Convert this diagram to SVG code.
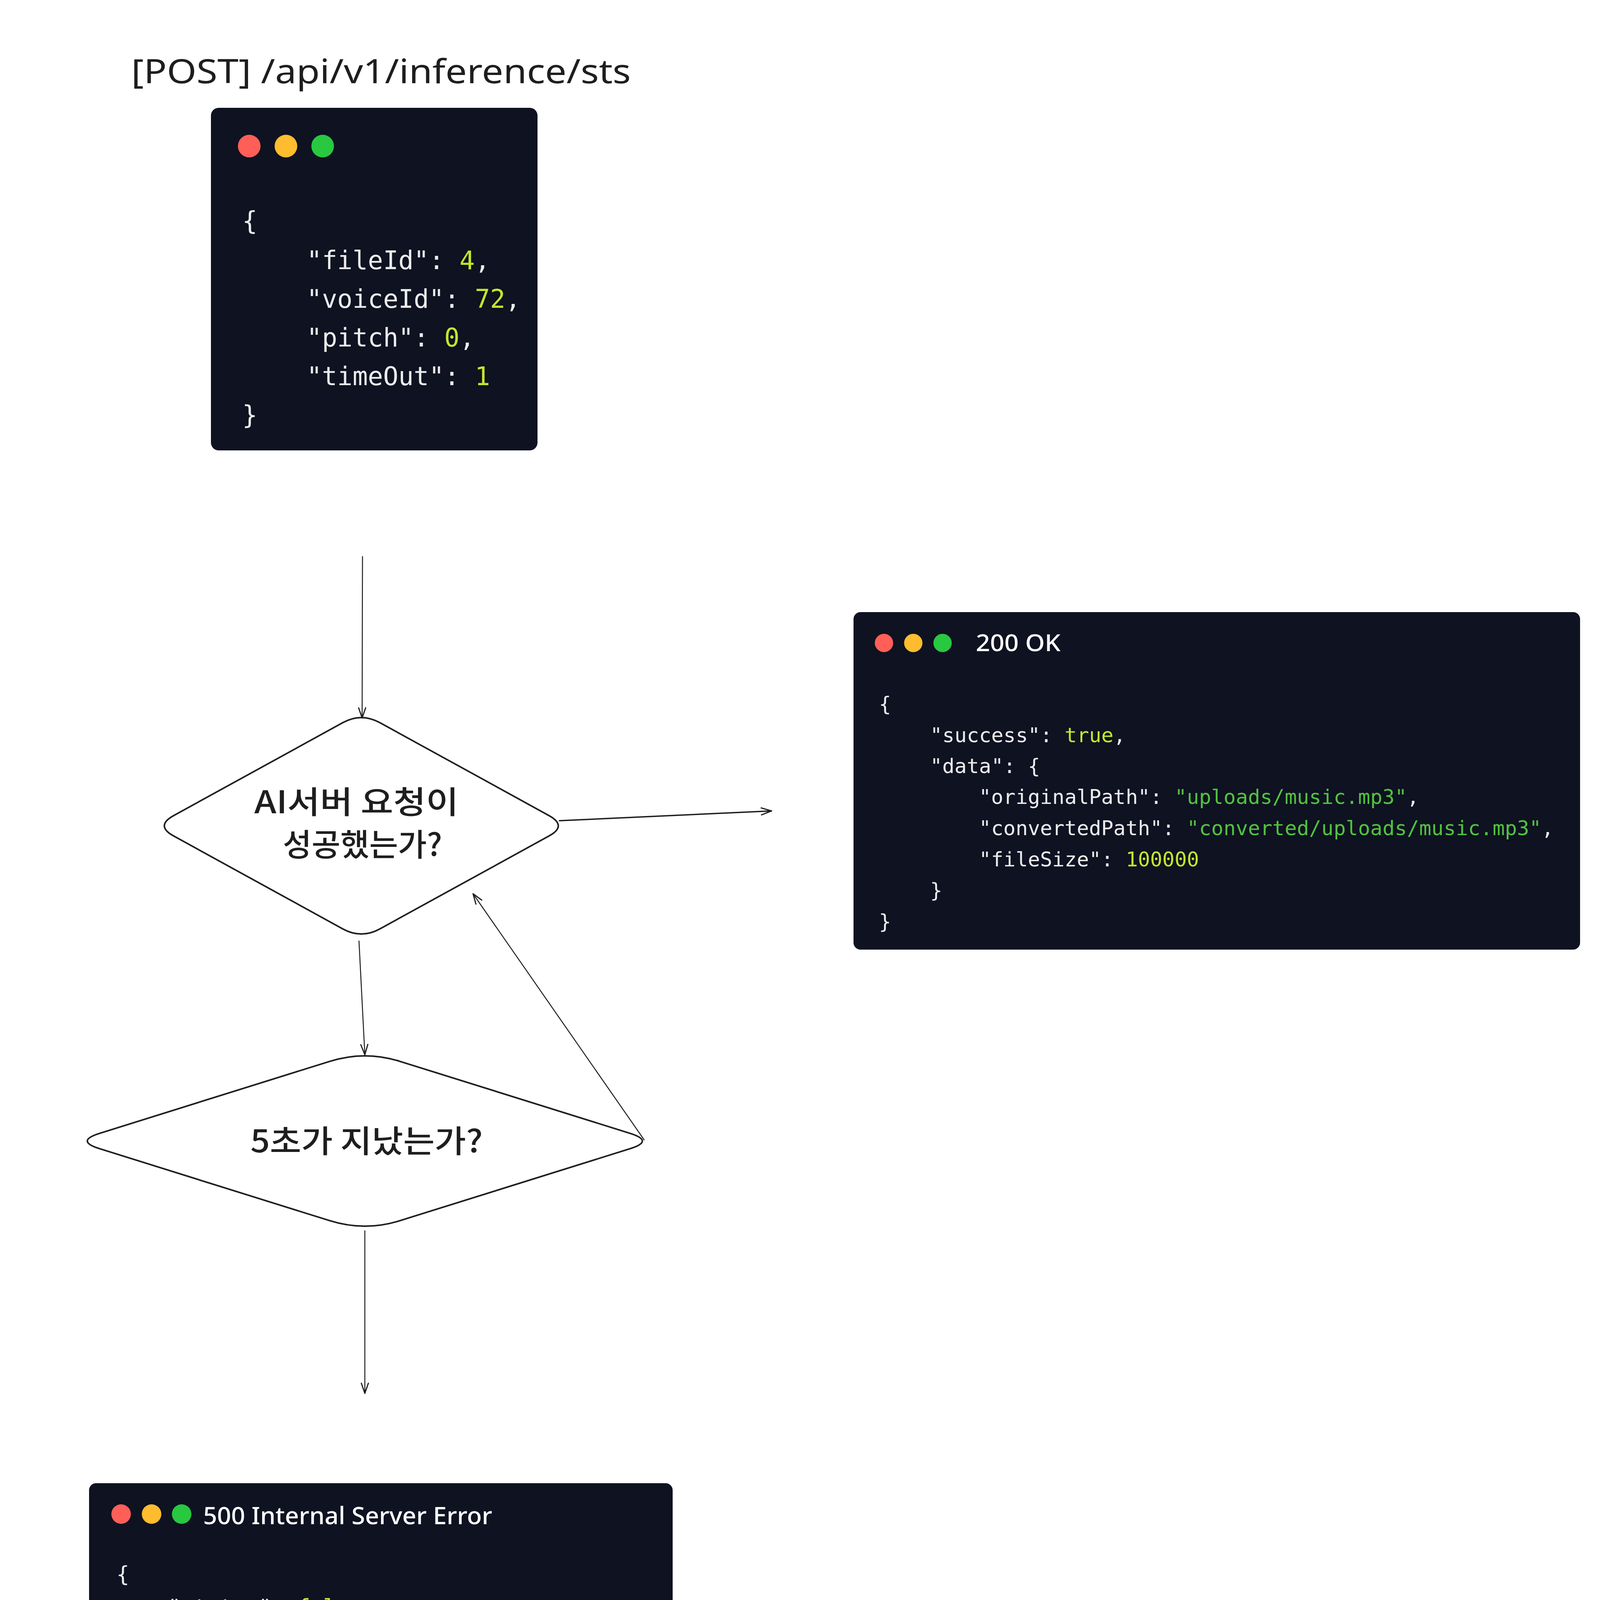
<svg xmlns="http://www.w3.org/2000/svg" width="4259" height="6463" viewBox="0 0 4259 6463">
<defs>
<style>
.bg{fill:#ffffff}
.card{fill:#0e1221}
.r{fill:#ff5f57}.y{fill:#febc2e}.g{fill:#28c840}
.code{font-family:"DejaVu Sans Mono","Liberation Mono",monospace;fill:#ececec}
.n{fill:#c5e52c}
.s{fill:#52c23f}
.hand{font-family:"Noto Sans","Liberation Sans",sans-serif}
.ttl{font-family:"Noto Sans","Liberation Sans",sans-serif;fill:#ffffff;font-weight:500}
.kr{font-family:"Noto Sans CJK KR","Noto Sans",sans-serif;fill:#1e1e1e;font-weight:500;text-anchor:start}
.dia{fill:#ffffff;stroke:#1e1e1e;stroke-width:4;stroke-linejoin:round}
.edge{fill:none;stroke:#1e1e1e;stroke-linecap:round}
</style>
<marker id="ah" markerUnits="userSpaceOnUse" markerWidth="60" markerHeight="40" viewBox="-40 -20 60 40" refX="0" refY="0" orient="auto">
<path d="M-26,-9 L0,0 L-26,9" fill="none" stroke="#1e1e1e" stroke-width="3" stroke-linecap="round" stroke-linejoin="round"/>
</marker>
</defs>
<rect class="bg" x="0" y="0" width="4259" height="6463"/>

<g id="title">
<text class="hand" x="336" y="213" font-size="86" fill="#1e1e1e" textLength="1279" lengthAdjust="spacingAndGlyphs">[POST] /api/v1/inference/sts</text>
</g>

<g id="request-card">
<rect class="card" x="540" y="276" width="836" height="877" rx="20"/>
<circle class="r" cx="638" cy="374" r="29"/>
<circle class="y" cx="732" cy="374" r="29"/>
<circle class="g" cx="826" cy="374" r="29"/>
<g class="code" font-size="65">
<text x="620" y="588">{</text>
<text x="785" y="689">"fileId": <tspan class="n">4</tspan>,</text>
<text x="785" y="788">"voiceId": <tspan class="n">72</tspan>,</text>
<text x="785" y="887">"pitch": <tspan class="n">0</tspan>,</text>
<text x="785" y="986">"timeOut": <tspan class="n">1</tspan></text>
<text x="620" y="1085">}</text>
</g>
</g>

<g id="decision-ai">
<path class="dia" d="M 972.5 1850.1 L 1405.5 2087.9 Q 1453 2114 1405.5 2140.1 L 972.5 2377.9 Q 925 2404 877.5 2377.9 L 444.5 2140.1 Q 397 2114 444.5 2087.9 L 877.5 1850.1 Q 925 1824 972.5 1850.1 Z"/>
<text class="kr" x="651" y="2082" font-size="80" textLength="523" lengthAdjust="spacingAndGlyphs">AI서버 요청이</text>
<text class="kr" x="724" y="2191" font-size="80" textLength="408" lengthAdjust="spacingAndGlyphs">성공했는가?</text>
</g>

<g id="decision-timeout">
<path class="dia" d="M 1023 2716.8 L 1612.9 2901.3 Q 1676 2921 1612.9 2940.7 L 1023 3125.2 Q 934 3153 845 3125.2 L 255.1 2940.7 Q 192 2921 255.1 2901.3 L 845 2716.8 Q 934 2689 1023 2716.8 Z"/>
<text class="kr" x="641" y="2950" font-size="80" textLength="595" lengthAdjust="spacingAndGlyphs">5초가 지났는가?</text>
</g>

<g id="success-card">
<rect class="card" x="2185" y="1567" width="1860" height="864" rx="18"/>
<circle class="r" cx="2263" cy="1646" r="23.5"/>
<circle class="y" cx="2338" cy="1646" r="23.5"/>
<circle class="g" cx="2413" cy="1646" r="23.5"/>
<text class="ttl" x="2498" y="1667" font-size="60" textLength="217" lengthAdjust="spacingAndGlyphs">200 OK</text>
<g class="code" font-size="52">
<text x="2250" y="1820">{</text>
<text x="2381" y="1900">"success": <tspan class="n">true</tspan>,</text>
<text x="2381" y="1979">"data": {</text>
<text x="2506" y="2058">"originalPath": <tspan class="s">"uploads/music.mp3"</tspan>,</text>
<text x="2506" y="2138">"convertedPath": <tspan class="s">"converted/uploads/music.mp3"</tspan>,</text>
<text x="2506" y="2218">"fileSize": <tspan class="n">100000</tspan></text>
<text x="2381" y="2297">}</text>
<text x="2250" y="2377">}</text>
</g>
</g>

<g id="error-card">
<rect class="card" x="228" y="3797" width="1494" height="805" rx="18"/>
<circle class="r" cx="310" cy="3876" r="25"/>
<circle class="y" cx="388" cy="3876" r="25"/>
<circle class="g" cx="465" cy="3876" r="25"/>
<text class="ttl" x="520" y="3902" font-size="62" textLength="740" lengthAdjust="spacingAndGlyphs">500 Internal Server Error</text>
<g class="code" font-size="55">
<text x="298" y="4049">{</text>
<text x="430" y="4133">"status": <tspan class="n">false</tspan>,</text>
<text x="430" y="4217">"error": {</text>
<text x="565" y="4301">"code": <tspan class="s">"INTERNAL_SERVER_ERROR"</tspan>,</text>
<text x="565" y="4385">"message": <tspan class="s">"Internal Server Error"</tspan></text>
<text x="430" y="4469">}</text>
<text x="298" y="4553">}</text>
</g>
</g>

<g id="upload-card">
<rect class="card" x="247" y="5586" width="1464" height="688" rx="18"/>
<circle class="r" cx="315" cy="5659" r="21"/>
<circle class="y" cx="380" cy="5659" r="21"/>
<circle class="g" cx="446" cy="5659" r="21"/>
<text class="ttl" x="521" y="5686" font-size="58" textLength="220" lengthAdjust="spacingAndGlyphs">200 OK</text>
<g class="code" font-size="46.5">
<text x="307" y="5810">{</text>
<text x="417" y="5880">"success": <tspan class="n">true</tspan>,</text>
<text x="417" y="5950">"data": {</text>
<text x="534" y="6020">"fileId": <tspan class="n">1</tspan>,</text>
<text x="534" y="6090">"uploadTime": <tspan class="s">"2025-03-16T21:33:37+09:00"</tspan></text>
<text x="417" y="6160">}</text>
<text x="307" y="6230">}</text>
</g>
</g>

<g id="connectors">
<path class="edge" stroke-width="2.5" d="M 928 1425 L 927 1838" marker-end="url(#ah)"/>
<path class="edge" stroke-width="3.5" d="M 1432 2101 L 1975 2076" marker-end="url(#ah)"/>
<path class="edge" stroke-width="2.5" d="M 919 2409 L 934 2700" marker-end="url(#ah)"/>
<path class="edge" stroke-width="2.5" d="M 1649 2918 Q 1556 2786 1211 2288" marker-end="url(#ah)"/>
<path class="edge" stroke-width="2.5" d="M 934 3151 L 934 3567" marker-end="url(#ah)"/>
</g>
</svg>
